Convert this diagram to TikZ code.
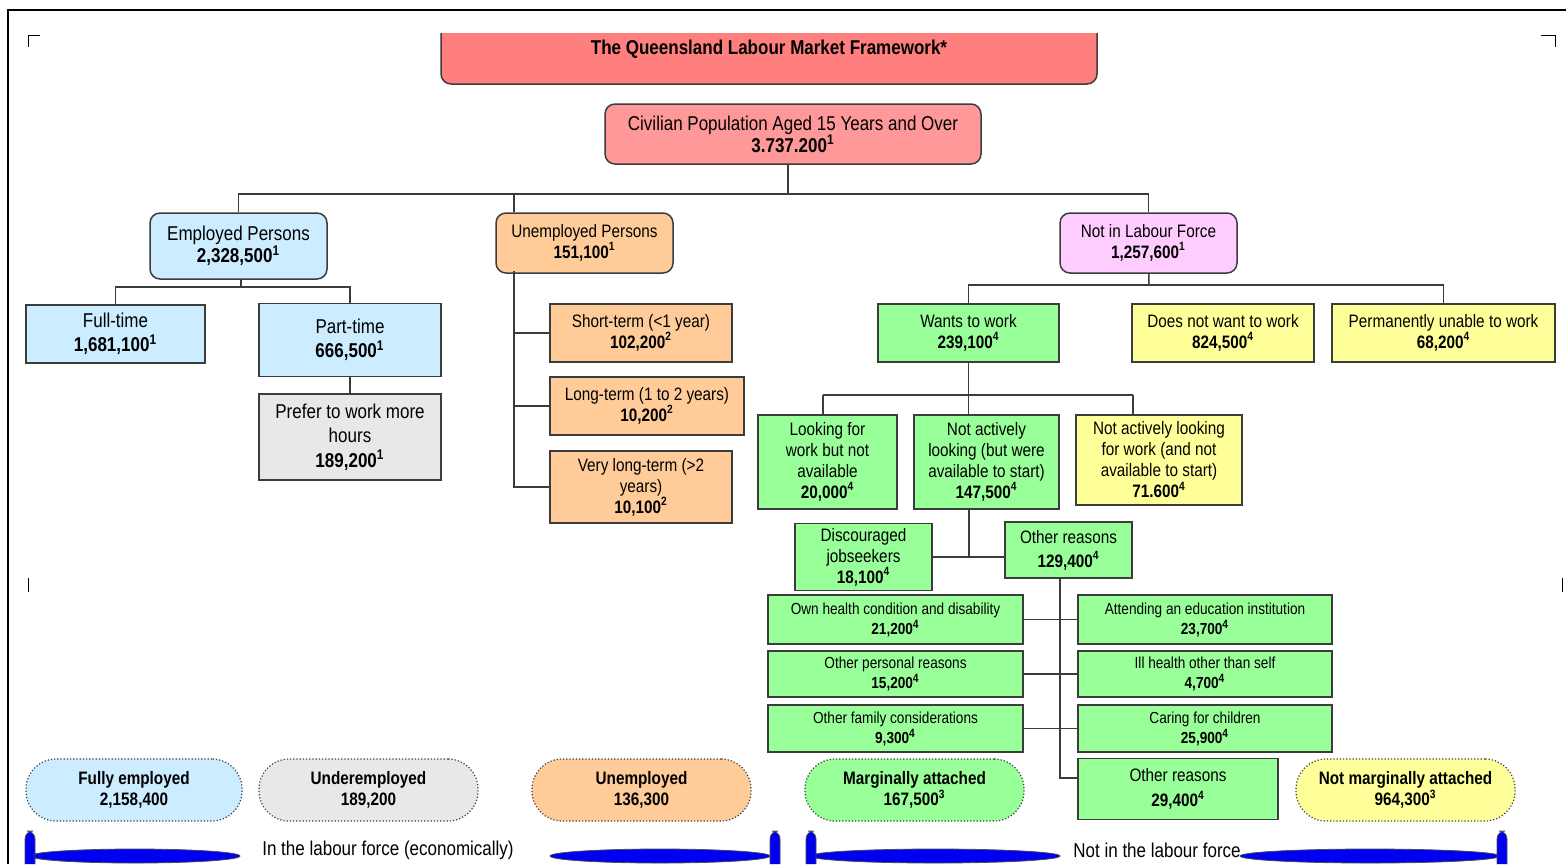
\documentclass[tikz,border=0pt]{standalone}
\usepackage{fontspec}
\setmainfont{Liberation Sans}[FakeStretch=0.85]
\usepackage{xcolor}
\usepackage{tikz}

\definecolor{titlered}{HTML}{FF7F7F}
\definecolor{civred}{HTML}{FF9999}
\definecolor{lblue}{HTML}{CCECFF}
\definecolor{lorange}{HTML}{FFCC99}
\definecolor{lpink}{HTML}{FFCCFF}
\definecolor{lgreen}{HTML}{99FF99}
\definecolor{lyellow}{HTML}{FFFF99}
\definecolor{lgray}{HTML}{E8E8E8}
\definecolor{edge}{HTML}{3C3C3C}
\definecolor{barblue}{HTML}{0000F0}

\newcommand{\fa}{\fontsize{10}{11}\selectfont}
\newcommand{\fab}{\fontsize{10}{12.2}\selectfont}
\newcommand{\fb}{\fontsize{9}{10.5}\selectfont}
\newcommand{\fc}{\fontsize{8}{10}\selectfont}
\newcommand{\nsup}[1]{\textsuperscript{#1}}

\tikzset{
    tnode/.style = {align=center, inner sep=0pt, text centered},
    sq/.style = {tnode, rectangle, draw=edge, line width=0.75pt},
    rnd/.style = {sq, rounded corners=5pt},
    oval/.style = {tnode, rectangle, rounded corners=15pt, draw=edge, densely dotted, line width=0.6pt, font=\fb\bfseries},
    sz/.style 2 args = {minimum width=#1*0.5pt, minimum height=#2*0.5pt},
    link/.style = {draw=edge, line width=0.75pt},
    bar/.style = {fill=barblue, draw=black!70, line width=0.4pt}
}

\begin{document}
\begin{tikzpicture}[x=0.5pt, y=-0.5pt]
\useasboundingbox (0,0) rectangle (1566,864);

% page frame and crop marks
\draw[line width=1pt] (8,864) -- (8,10) -- (1566,10);
\draw[thin] (28,47) -- (28,35) -- (40,35);
\draw[thin] (1541,35) -- (1555,35) -- (1555,47);
\draw[thin] (28,578) -- (28,592);
\draw[thin] (1562,578) -- (1562,592);

% top
\begin{scope}
\clip (0,33) rectangle (1566,864);
\node[rnd, fill=titlered, sz={656}{70}, font=\fontsize{10}{11}\selectfont\bfseries] (title) at (769,49) {The Queensland Labour Market Framework*};
\end{scope}
\node[rnd, fill=civred, sz={376}{60}, font=\fa] (civ) at (793,134)
    {Civilian Population Aged 15 Years and Over\\\textbf{3.737.200\nsup{1}}};

% level 1
\node[rnd, fill=lblue, sz={177}{66}, font=\fa] (emp) at (238.5,246) {Employed Persons\\\textbf{2,328,500\nsup{1}}};
\node[rnd, fill=lorange, sz={177}{60}, font=\fb] (unemp) at (584.5,243) {Unemployed Persons\\\textbf{151,100\nsup{1}}};
\node[rnd, fill=lpink, sz={177}{60}, font=\fb] (nilf) at (1148.5,243) {Not in Labour Force\\\textbf{1,257,600\nsup{1}}};

% employed
\node[sq, fill=lblue, sz={179}{58}, font=\fab] (ft) at (115.5,334) {Full-time\\\textbf{1,681,100\nsup{1}}};
\node[sq, fill=lblue, sz={182}{73}, font=\fab] (pt) at (350,340) {Part-time\\\textbf{666,500\nsup{1}}};
\node[sq, fill=lgray, sz={182}{86}, font=\fab] (pref) at (350,437) {Prefer to work more\\hours\\\textbf{189,200\nsup{1}}};

% unemployed
\node[sq, fill=lorange, sz={182}{58}, font=\fb] (st) at (641,333) {Short-term (<1 year)\\\textbf{102,200\nsup{2}}};
\node[sq, fill=lorange, sz={194}{58}, font=\fb] (lt) at (647,406) {Long-term (1 to 2 years)\\\textbf{10,200\nsup{2}}};
\node[sq, fill=lorange, sz={182}{72}, font=\fb] (vlt) at (641,487) {Very long-term (>2\\years)\\\textbf{10,100\nsup{2}}};

% not in labour force
\node[sq, fill=lgreen, sz={181}{58}, font=\fb] (wants) at (968.5,333) {Wants to work\\\textbf{239,100\nsup{4}}};
\node[sq, fill=lyellow, sz={182}{58}, font=\fb] (dnw) at (1223,333) {Does not want to work\\\textbf{824,500\nsup{4}}};
\node[sq, fill=lyellow, sz={223}{58}, font=\fb] (perm) at (1443.5,333) {Permanently unable to work\\\textbf{68,200\nsup{4}}};

\node[sq, fill=lgreen, sz={139}{94}, font=\fb] (look) at (827.5,462) {Looking for\\work but not\\available\\\textbf{20,000\nsup{4}}};
\node[sq, fill=lgreen, sz={145}{94}, font=\fb] (nact) at (986.5,462) {Not actively\\looking (but were\\available to start)\\\textbf{147,500\nsup{4}}};
\node[sq, fill=lyellow, sz={166}{90}, font=\fb] (nalook) at (1159,460) {Not actively looking\\for work (and not\\available to start)\\\textbf{71.600\nsup{4}}};

\node[sq, fill=lgreen, sz={137}{67}, font=\fb] (disc) at (863.5,557) {Discouraged\\jobseekers\\\textbf{18,100\nsup{4}}};
\node[sq, fill=lgreen, sz={127}{56}, font=\fontsize{9}{12}\selectfont] (oth) at (1068.5,550) {Other reasons\\\textbf{129,400\nsup{4}}};

\node[sq, fill=lgreen, sz={255}{49}, font=\fc] (own) at (895.5,619.5) {Own health condition and disability\\\textbf{21,200\nsup{4}}};
\node[sq, fill=lgreen, sz={255}{46}, font=\fc] (opers) at (895.5,674) {Other personal reasons\\\textbf{15,200\nsup{4}}};
\node[sq, fill=lgreen, sz={255}{47}, font=\fc] (ofam) at (895.5,728.5) {Other family considerations\\\textbf{9,300\nsup{4}}};
\node[sq, fill=lgreen, sz={254}{49}, font=\fc] (att) at (1205,619.5) {Attending an education institution\\\textbf{23,700\nsup{4}}};
\node[sq, fill=lgreen, sz={254}{46}, font=\fc] (ill) at (1205,674) {Ill health other than self\\\textbf{4,700\nsup{4}}};
\node[sq, fill=lgreen, sz={254}{47}, font=\fc] (car) at (1205,728.5) {Caring for children\\\textbf{25,900\nsup{4}}};
\node[sq, fill=lgreen, sz={200}{61}, font=\fontsize{9}{12.5}\selectfont] (oth2) at (1178,789) {Other reasons\\\textbf{29,400\nsup{4}}};

% connectors
\coordinate (bus) at (788,194);
\draw[link] (bus |- civ.south) -- (bus);
\draw[link] (emp.north) |- (bus);
\draw[link] (nilf.north) |- (bus);
\coordinate (utop) at (514,271);
\draw[link] (utop |- bus) -- (utop |- unemp.north);

\coordinate (ebus) at (241,287);
\draw[link] (ebus |- emp.south) -- (ebus);
\draw[link] (ft.north) |- (ebus);
\draw[link] (pt.north) |- (ebus);
\draw[link] (pt) -- (pref);

\draw[link] (utop) |- (vlt.west);
\draw[link] (utop |- st.west) -- (st.west);
\draw[link] (utop |- lt.west) -- (lt.west);

\coordinate (nbus) at (1149,285);
\draw[link] (nilf) -- (nbus);
\draw[link] (wants.north) |- (nbus);
\draw[link] (perm.north) |- (nbus);

\coordinate (wl) at (823,395);
\coordinate (wr) at (1133,395);
\draw[link] (wl) -- (wr);
\draw[link] (wl) -- (wl |- look.north);
\draw[link] (wr) -- (wr |- nalook.north);
\draw[link] (wants.south) -- (wants.south |- nact.north);

\coordinate (dbus) at (969,557);
\draw[link] (dbus |- nact.south) -- (dbus);
\draw[link] (disc.east |- dbus) -- (oth.west |- dbus);

\coordinate (obus) at (1060,778);
\draw[link] (obus |- oth.south) -- (obus) -- (oth2.west |- obus);
\draw[link] (own.east) -- (att.west);
\draw[link] (opers.east) -- (ill.west);
\draw[link] (ofam.east) -- (car.west);

% bottom groups
\node[oval, fill=lblue, sz={216}{62}] (fe) at (134,790) {Fully employed\\2,158,400};
\node[oval, fill=lgray, sz={219}{62}] (ue) at (368.5,790) {Underemployed\\189,200};
\node[oval, fill=lorange, sz={219}{62}] (un) at (641.5,790) {Unemployed\\136,300};
\node[oval, fill=lgreen, sz={219}{62}] (ma) at (914.5,790) {Marginally attached\\167,500\nsup{3}};
\node[oval, fill=lyellow, sz={219}{62}] (nma) at (1405.5,790) {Not marginally attached\\964,300\nsup{3}};

\node[tnode, font=\fa] (inlf) at (388,850) {In the labour force (economically)};
\node[tnode, font=\fa] (notlf) at (1157,850) {Not in the labour force};

\fill[bar] (135,856) ellipse [x radius=105, y radius=7];
\fill[bar] (660,856) ellipse [x radius=110, y radius=7];
\fill[bar] (935,856) ellipse [x radius=125, y radius=7];
\fill[bar] (1370,856) ellipse [x radius=130, y radius=7];
\draw[bar, rounded corners=4pt] (25,864) -- (25,831) -- (35,831) -- (35,864);
\draw[bar, rounded corners=4pt] (770,864) -- (770,831) -- (780,831) -- (780,864);
\draw[bar, rounded corners=4pt] (806,864) -- (806,831) -- (816,831) -- (816,864);
\draw[bar, rounded corners=4pt] (1497,864) -- (1497,831) -- (1507,831) -- (1507,864);
\end{tikzpicture}
\end{document}
